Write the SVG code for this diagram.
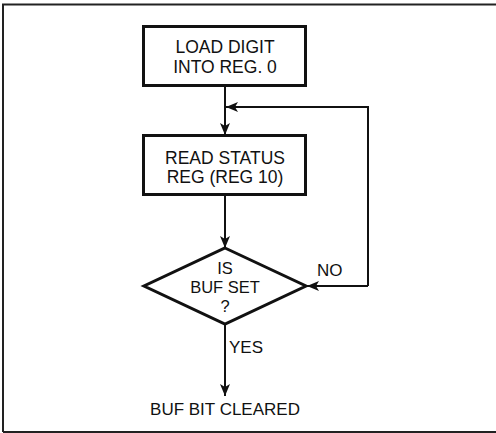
<svg xmlns="http://www.w3.org/2000/svg" width="496" height="433" viewBox="0 0 496 433">
<style>
text{font-family:"Liberation Sans",Arial,sans-serif;font-size:17.5px;fill:#111;text-anchor:middle}
.node{fill:#fff;stroke:#111;stroke-width:3}
.edge{fill:none;stroke:#111;stroke-width:2}
.lbl{text-anchor:start;font-size:17px}
.dia{font-size:16.5px}
</style>
<defs>
<marker id="ah" viewBox="0 0 12 10" refX="12" refY="5" markerWidth="12" markerHeight="10" markerUnits="userSpaceOnUse" orient="auto">
<path d="M0,0 L12,5 L0,10 L3,5 z" fill="#111"/>
</marker>
</defs>
<rect width="496" height="433" fill="#fff"/>
<g id="frame"><path d="M3,432 L3,4.5 L496,4.5 M3,432 L496,432" fill="none" stroke="#222" stroke-width="2"/></g>
<g id="connectors">
<path class="edge" d="M225,86 L225,135" marker-end="url(#ah)"/>
<path class="edge" d="M368,286 L368,107 L226,107" marker-end="url(#ah)"/>
<path class="edge" d="M368,286 L307,286" marker-end="url(#ah)"/>
<path class="edge" d="M225,195 L225,248" marker-end="url(#ah)"/>
<path class="edge" d="M225,324 L225,396" marker-end="url(#ah)"/>
<text class="lbl" x="317" y="276">NO</text>
<text class="lbl" x="229" y="353">YES</text>
</g>
<g id="load">
<rect class="node" x="143.5" y="26.5" width="162" height="59"/>
<text x="225" y="53">LOAD DIGIT</text>
<text x="225" y="72.5">INTO REG. 0</text>
</g>
<g id="read">
<rect class="node" x="143.5" y="135.5" width="162" height="59"/>
<text x="225" y="164">READ STATUS</text>
<text x="225" y="182.5">REG (REG 10)</text>
</g>
<g id="decision">
<path class="node" d="M225,248 L306,286 L225,324 L144,286 z"/>
<text class="dia" x="225" y="274">IS</text>
<text class="dia" x="225" y="293">BUF SET</text>
<text class="dia" x="225" y="312">?</text>
</g>
<g id="end">
<text x="225" y="415" style="font-size:17px">BUF BIT CLEARED</text>
</g>
</svg>
